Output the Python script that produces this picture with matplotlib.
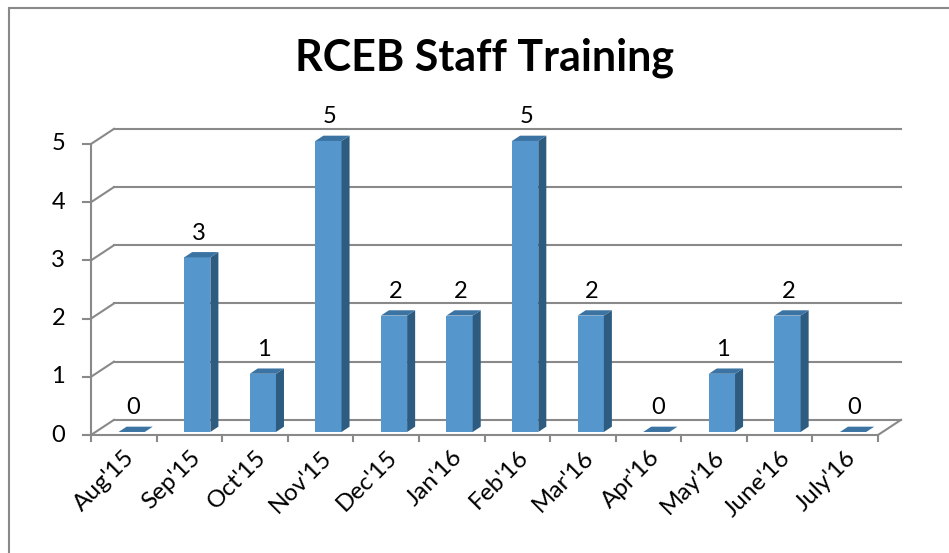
import numpy as np
import matplotlib.pyplot as plt
from matplotlib.patches import Polygon, Rectangle

months = ["Aug'15", "Sep'15", "Oct'15", "Nov'15", "Dec'15", "Jan'16",
          "Feb'16", "Mar'16", "Apr'16", "May'16", "June'16", "July'16"]
trainings = [0, 3, 1, 5, 2, 2, 5, 2, 0, 1, 2, 0]
y_ticks = [0, 1, 2, 3, 4, 5]

FONT = 'Lato'
GRAY = '#898989'
FRONT = '#5597cd'
SIDE = '#2d5c80'
TOP = '#3b73a3'

# fake 3d: shift along depth (d in 0..1) in data units
DX, DY = 0.35, 0.26


def proj(x, y, d):
    return (x + d * DX, y + d * DY)


fig = plt.figure(figsize=(9.49, 5.53), dpi=100)
ax = fig.add_axes([91 / 949, 118 / 553, 787 / 949, 291 / 553])
ax.set_xlim(0, len(months))
ax.set_ylim(0, 5)
ax.axis('off')

n = len(months)

# back wall and side wall gridlines
for y in y_ticks:
    p0, p1 = proj(0, y, 1), proj(n, y, 1)
    ax.plot([p0[0], p1[0]], [p0[1], p1[1]], color=GRAY, lw=1.5, clip_on=False, zorder=1)
    q0, q1 = proj(0, y, 0), proj(0, y, 1)
    ax.plot([q0[0], q1[0]], [q0[1], q1[1]], color=GRAY, lw=1.5, clip_on=False, zorder=1)
    ax.plot([-0.12, 0], [y, y], color=GRAY, lw=1.5, clip_on=False, zorder=1)
    ax.text(-0.5, y, str(y), ha='center', va='center', fontsize=17,
            family=FONT, color='black')

# floor edges and front value axis
r0, r1 = proj(n, 0, 0), proj(n, 0, 1)
ax.plot([0, n], [0, 0], color=GRAY, lw=1.5, clip_on=False, zorder=1)
ax.plot([r0[0], r1[0]], [r0[1], r1[1]], color=GRAY, lw=1.5, clip_on=False, zorder=1)
ax.plot([0, 0], [0, 5], color=GRAY, lw=1.5, clip_on=False, zorder=1)

for i in range(n + 1):
    ax.plot([i, i], [0, -0.11], color=GRAY, lw=1.5, clip_on=False, zorder=1)

# bars
d0, d1 = 0.2, 0.55
for i, v in enumerate(trainings):
    x0, x1 = i + 0.35, i + 0.75
    if v > 0:
        front = [proj(x0, 0, d0), proj(x1, 0, d0), proj(x1, v, d0), proj(x0, v, d0)]
        side = [proj(x1, 0, d0), proj(x1, 0, d1), proj(x1, v, d1), proj(x1, v, d0)]
        ax.add_patch(Polygon(front, closed=True, fc=FRONT, ec='none', clip_on=False, zorder=3))
        ax.add_patch(Polygon(side, closed=True, fc=SIDE, ec='none', clip_on=False, zorder=3))
    top = [proj(x0, v, d0), proj(x1, v, d0), proj(x1, v, d1), proj(x0, v, d1)]
    ax.add_patch(Polygon(top, closed=True, fc=TOP, ec='none', clip_on=False, zorder=3))
    cx, cy = proj((x0 + x1) / 2, v, (d0 + d1) / 2)
    ax.text(cx - 0.04, cy + 0.37, str(v), ha='center', va='center', fontsize=17,
            family=FONT, color='black', zorder=4)

# category labels
for i, m in enumerate(months):
    ax.text(i + 0.5, -0.2, m, rotation=45, rotation_mode='anchor',
            ha='right', va='top', fontsize=17.5, family=FONT, color='black')

fig.text(0.511, 1 - 58 / 553, 'RCEB Staff Training', ha='center', va='center',
         fontsize=31, fontweight='bold', family=FONT, color='black')

fig.patches.append(Rectangle((9 / 949, -0.1), 1.2, 1.1 - 8 / 553, transform=fig.transFigure,
                             fill=False, ec=GRAY, lw=1.5))

fig.savefig('out.png', dpi=100)
